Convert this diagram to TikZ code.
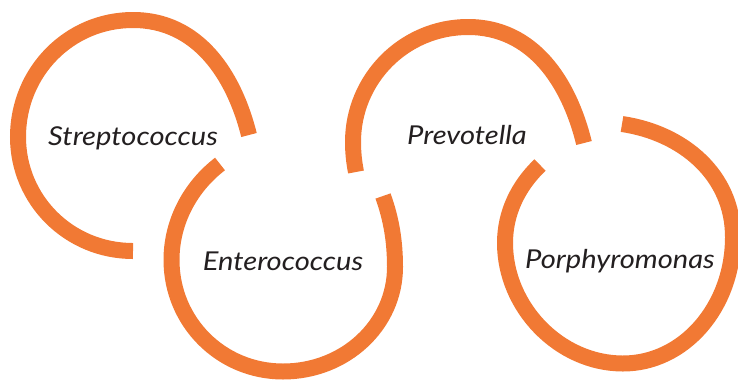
\documentclass[tikz,border=0pt]{standalone}
\usepackage{fontspec}
\setmainfont{Lato}
\newfontfamily\labelfont[FakeStretch=1.12]{Lato}
\definecolor{ringorange}{RGB}{241,121,52}
\definecolor{labeltext}{RGB}{35,31,32}
\begin{document}
\begin{tikzpicture}[x=1pt,y=-1pt,
  ring/.style={draw=ringorange,line width=16pt,line cap=butt},
  label/.style={font=\labelfont\itshape\fontsize{26}{30}\selectfont,text=labeltext,inner sep=0pt,anchor=base}]
\useasboundingbox (0,0) rectangle (738,381);
% Streptococcus ring
\draw[ring] (133,251) .. controls (69,251) and (18,200) .. (18,137)
  .. controls (18,72) and (69,20) .. (133,20)
  .. controls (198,20) and (234,75) .. (249,135);
% Enterococcus ring
\draw[ring] (220,164) .. controls (190,187) and (171.5,222) .. (171.5,260)
  .. controls (171.5,322) and (221,371.5) .. (283,371.5)
  .. controls (345,371.5) and (395,325) .. (395,267)
  .. controls (395,242) and (391.5,219.5) .. (383,196);
% Prevotella ring
\draw[ring] (356,172) .. controls (354,162) and (353,152) .. (353,142)
  .. controls (353,79) and (404,27) .. (468,27)
  .. controls (533,27) and (569,82) .. (584,143);
% Porphyromonas ring
\draw[ring] (540,165) .. controls (518,186) and (505,213) .. (505,243)
  .. controls (505,307) and (559,363.5) .. (623,363.5)
  .. controls (684,363.5) and (733,307) .. (733,237)
  .. controls (733,175) and (683,133) .. (622,124);
\node[label] (strep) at (133,145) {Streptococcus};
\node[label] (entero) at (283,270) {Enterococcus};
\node[label] (prevo) at (467,144) {Prevotella};
\node[label] (porph) at (620,268) {Porphyromonas};
\end{tikzpicture}
\end{document}
